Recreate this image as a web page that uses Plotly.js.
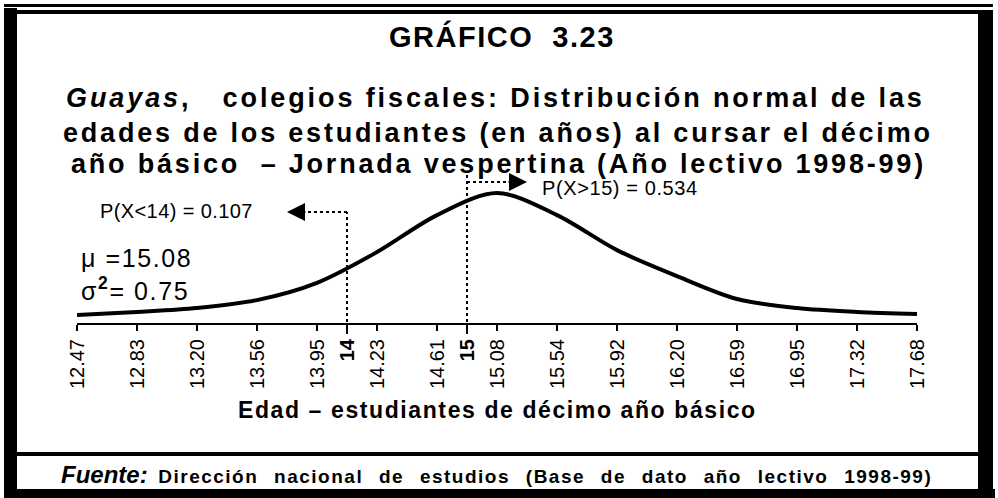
<!DOCTYPE html>
<html>
<head>
<meta charset="utf-8">
<script src="https://cdn.plot.ly/plotly-3.0.1.min.js"></script>
<style>
  html, body { margin: 0; padding: 0; background: #fff; }
  #chart { width: 998px; height: 498px; }
</style>
</head>
<body>
<div id="chart"></div>
<script>
// ages shown on the x axis (one category per tick)
const ages = ['12.47', '12.83', '13.20', '13.56', '13.95', '14.23', '14.61', '15.08',
              '15.54', '15.92', '16.20', '16.59', '16.95', '17.32', '17.68']
// height of the curve at each age (density)
const density = [0.028, 0.039, 0.053, 0.081, 0.142, 0.251, 0.382, 0.460,
                 0.382, 0.258, 0.166, 0.085, 0.053, 0.039, 0.032]
// cut points marked with dotted lines, sitting between two ticks
const cutLabels = ['14', '15']
const cutPos = [4.5, 6.5]
const probLabels = ['P(X<14) = 0.107', 'P(X>15) = 0.534']
const mu = '15.08'
const sigma2 = '0.75'

const FONT = '"Liberation Sans", Arial, sans-serif'

// pixel -> paper helpers for the frame and the text blocks
const L = 77, R = 81, T = 160, B = 175
const W = 998, H = 498
const pw = W - L - R, ph = H - T - B
const px = p => (p - L) / pw
const py = p => (H - B - p) / ph

let xIdx = ages.map((a, i) => i)

let tickvals = [], ticktext = []
ages.forEach((a, i) => { tickvals.push(i); ticktext.push(a) })
cutPos.forEach((p, i) => { tickvals.push(p); ticktext.push('<b>' + cutLabels[i] + '</b>') })

let curve = {
    x: xIdx,
    y: density,
    mode: 'lines',
    type: 'scatter',
    line: {color: '#000', width: 4, shape: 'spline', smoothing: 0.9},
    hoverinfo: 'skip',
    showlegend: false,
}

// frame round the whole figure
function box(x0, y0, x1, y1) {
    return {type: 'rect', xref: 'paper', yref: 'paper',
            x0: px(x0), x1: px(x1), y0: py(y0), y1: py(y1),
            fillcolor: '#000', line: {width: 0}, layer: 'above'}
}

let shapes = [
    box(4, 8, 17, 493),
    box(978, 12, 993, 495),
    box(4, 4, 993, 7),
    box(4, 10, 993, 14),
    box(4, 489, 995, 498),
    box(17, 452, 978, 456),
    // dotted cut lines
    {type: 'line', xref: 'x', yref: 'paper', x0: cutPos[0], x1: cutPos[0], y0: py(334), y1: py(212),
     line: {color: '#000', width: 2, dash: 'dot'}},
    {type: 'line', xref: 'x', yref: 'paper', x0: cutPos[0], x1: cutPos[0] - 0.72, y0: py(212), y1: py(212),
     line: {color: '#000', width: 2, dash: 'dot'}},
    {type: 'line', xref: 'x', yref: 'paper', x0: cutPos[1], x1: cutPos[1], y0: py(334), y1: py(173),
     line: {color: '#000', width: 2, dash: 'dot'}},
    {type: 'line', xref: 'x', yref: 'paper', x0: cutPos[1], x1: cutPos[1] + 0.72, y0: py(182), y1: py(182),
     line: {color: '#000', width: 2, dash: 'dot'}},
]

// the scanned lettering is wider than Arial, so space the letters out
function sp(s, ls, ws) {
    return '<span style="letter-spacing:' + ls + 'px;word-spacing:' + (ws || 0) + 'px">' + s + '</span>'
}

function txt(text, x, y, size, xanchor) {
    return {text: text, xref: 'paper', yref: 'paper', x: px(x), y: py(y),
            xanchor: xanchor || 'center', yanchor: 'middle', showarrow: false,
            font: {family: FONT, size: size, color: '#000'}}
}

const NB = '\u00a0'
let annotations = [
    txt('<b>' + sp('GRÁFICO' + NB + NB + '3.23', 1.5) + '</b>', 502, 37, 29),
    txt('<b>' + sp('<i>Guayas</i>,' + NB + NB + NB + 'colegios fiscales: Distribución normal de las', 2.9) + '</b>', 495, 98, 27),
    txt('<b>' + sp('edades de los estudiantes (en años) al cursar el décimo', 2.8) + '</b>', 498, 133, 27),
    txt('<b>' + sp('año básico' + NB + NB + '– Jornada vespertina (Año lectivo 1998-99)', 2.8) + '</b>', 498, 164, 27),
    txt(sp(probLabels[0], 0.4), 255, 211, 20, 'right'),
    txt(sp(probLabels[1], 0.6), 540, 188, 20, 'left'),
    txt(sp('μ =' + mu, 1.6), 79, 258, 25, 'left'),
    txt(sp('σ<sup><b>2</b></sup>= ' + sigma2, 1.6), 79, 289, 25, 'left'),
    txt('<b>' + sp('Edad – estudiantes de décimo año básico', 1.6) + '</b>', 497, 410, 23),
    txt('<b><i><span style="font-size:24px">Fuente:</span></i>' + NB + NB +
        sp('Dirección nacional de estudios (Base de dato año lectivo 1998-99)', 1.5, 9) + '</b>', 496, 474, 19),
    // arrow heads at the end of the dotted lines
    {x: cutPos[0] - 1, y: py(212), xref: 'x', yref: 'paper', text: '', showarrow: true,
     arrowhead: 2, arrowsize: 1.8, arrowwidth: 2, arrowcolor: '#000', ax: 20, ay: 0},
    {x: cutPos[1] + 1, y: py(182), xref: 'x', yref: 'paper', text: '', showarrow: true,
     arrowhead: 2, arrowsize: 1.8, arrowwidth: 2, arrowcolor: '#000', ax: -20, ay: 0},
]

let layout = {
    width: W,
    height: H,
    margin: {l: L, r: R, t: T, b: B, pad: 0},
    paper_bgcolor: '#fff',
    plot_bgcolor: '#fff',
    showlegend: false,
    xaxis: {
        range: [0, ages.length - 1],
        tickmode: 'array',
        tickvals: tickvals,
        ticktext: ticktext,
        tickangle: -90,
        ticks: 'outside',
        ticklen: 6,
        tickwidth: 1.5,
        tickcolor: '#000',
        showline: true,
        linecolor: '#000',
        linewidth: 2,
        showgrid: false,
        zeroline: false,
        tickfont: {family: FONT, size: 20, color: '#000'},
    },
    yaxis: {
        range: [0, 0.577],
        visible: false,
        showgrid: false,
        zeroline: false,
    },
    shapes: shapes,
    annotations: annotations,
}

Plotly.newPlot('chart', [curve], layout, {staticPlot: true})
</script>
</body>
</html>
